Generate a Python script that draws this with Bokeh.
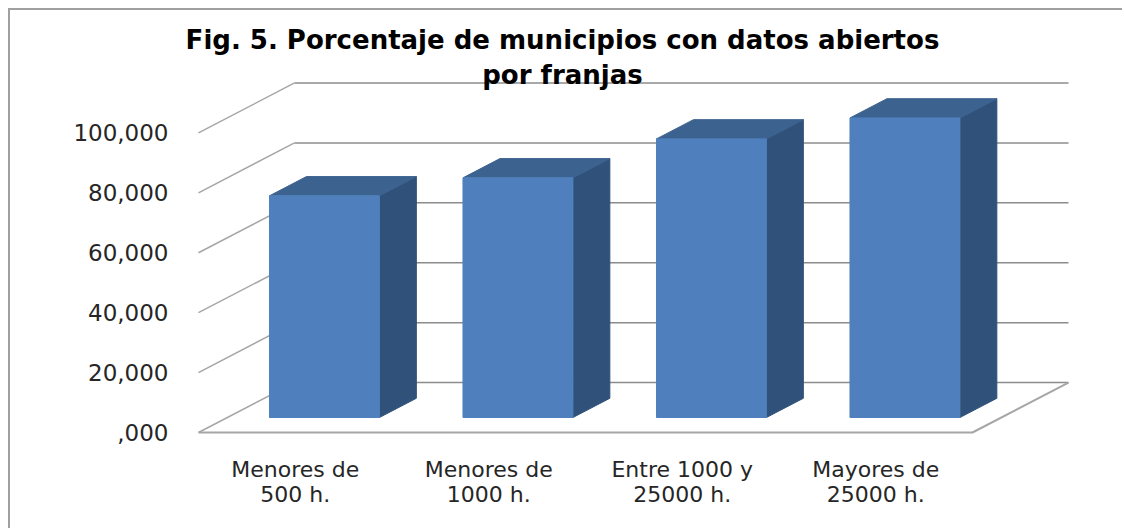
from bokeh.core.properties import value
from bokeh.embed import file_html
from bokeh.models import FixedTicker, LinearAxis, Range1d
from bokeh.plotting import figure
from bokeh.resources import INLINE

title_text = "Fig. 5. Porcentaje de municipios con datos abiertos\npor franjas"
categories = ["Menores de\n500 h.", "Menores de\n1000 h.", "Entre 1000 y\n25000 h.", "Mayores de\n25000 h."]
values = [74, 80, 93, 100]
tick_values = [0, 20, 40, 60, 80, 100]
tick_labels = [",000", "20,000", "40,000", "60,000", "80,000", "100,000"]

FONT = "DejaVu Sans"
WIN_W, WIN_H = 1124, 530
EDGE = 10                 # chart border's outer margin + line, in picture pixels
F_LEFT, F_BOTTOM = 198, 432   # plot origin in picture pixels
N = len(categories)
PX_CAT = 193.5            # pixels per category
PX_VAL = 2.996            # pixels per value unit
DX = 96 / PX_CAT          # wall offset in category units
DY = 16.67                # wall offset in value units
D0, D1 = 0.30, 0.685      # bar depth span, as fraction of the floor depth
GAP, W = 0.218, 0.568     # bar offset / width, in category units

p = figure(
    width=WIN_W - EDGE, height=WIN_H - EDGE, output_backend="svg", toolbar_location=None,
    x_range=Range1d((EDGE - F_LEFT) / PX_CAT, (WIN_W - F_LEFT) / PX_CAT),
    y_range=Range1d((F_BOTTOM - WIN_H) / PX_VAL, (F_BOTTOM - EDGE) / PX_VAL),
    x_axis_type=None, y_axis_type=None,
    min_border_left=0, min_border_right=0, min_border_top=0, min_border_bottom=0,
    outline_line_color=None, background_fill_color=None, border_fill_color=None,
    margin=(8, 0, 0, 8),
    styles={"border-left": "2px solid #a0a0a0", "border-top": "2px solid #a0a0a0"},
)
p.grid.visible = False


def proj(x, y, d):
    return x + d * DX, y + d * DY


for v in tick_values:
    x0, y0 = proj(0, v, 0)
    x1, y1 = proj(0, v, 1)
    x2, y2 = proj(N, v, 1)
    p.line([x0, x1], [y0, y1], line_color="#a6a6a6", line_width=1.5)
    p.line([x1, x2], [y1, y2], line_color="#8c8c8c", line_width=1.5)

fx0, fy0 = proj(0, 0, 0)
fx1, fy1 = proj(N, 0, 0)
fx2, fy2 = proj(N, 0, 1)
p.line([fx0, fx1, fx2], [fy0, fy1, fy2], line_color="#a6a6a6", line_width=2)

for i, v in enumerate(values):
    xl, xr = i + GAP, i + GAP + W
    a = proj(xl, 0, D0); b = proj(xr, 0, D0); c = proj(xr, v, D0); e = proj(xl, v, D0)
    b2 = proj(xr, 0, D1); c2 = proj(xr, v, D1); e2 = proj(xl, v, D1)
    p.patch([b[0], b2[0], c2[0], c[0]], [b[1], b2[1], c2[1], c[1]], fill_color="#30527A", line_color="#30527A")
    p.patch([e[0], c[0], c2[0], e2[0]], [e[1], c[1], c2[1], e2[1]], fill_color="#3C628F", line_color="#3C628F")
    p.patch([a[0], b[0], c[0], e[0]], [a[1], b[1], c[1], e[1]], fill_color="#4F80BD", line_color="#4F80BD")

yaxis = LinearAxis(
    ticker=FixedTicker(ticks=tick_values),
    major_label_overrides=dict(zip(tick_values, tick_labels)),
    axis_line_color=None, major_tick_line_color=None, minor_tick_line_color=None,
    major_tick_in=0, major_tick_out=0, major_label_standoff=30, fixed_location=0,
    major_label_text_font=FONT, major_label_text_font_size="23px", major_label_text_color="#262626",
)
p.add_layout(yaxis, "left")

cat_ticks = [i + 0.5 for i in range(N)]
xaxis = LinearAxis(
    ticker=FixedTicker(ticks=cat_ticks),
    major_label_overrides=dict(zip(cat_ticks, categories)),
    axis_line_color=None, major_tick_line_color=None, minor_tick_line_color=None,
    major_tick_in=0, major_tick_out=0, major_label_standoff=24, fixed_location=0,
    major_label_text_font=FONT, major_label_text_font_size="22px", major_label_text_color="#262626",
    major_label_text_line_height=1.0,
)
p.add_layout(xaxis, "below")

p.text(
    x=[(562 - F_LEFT) / PX_CAT], y=[(F_BOTTOM - 57) / PX_VAL], text=[title_text],
    text_align="center", text_baseline="middle", text_font=value(FONT), text_font_style="bold",
    text_font_size="26px", text_color="#000000", text_line_height=1.15,
)

open("out.html", "w").write(file_html(p, INLINE))
